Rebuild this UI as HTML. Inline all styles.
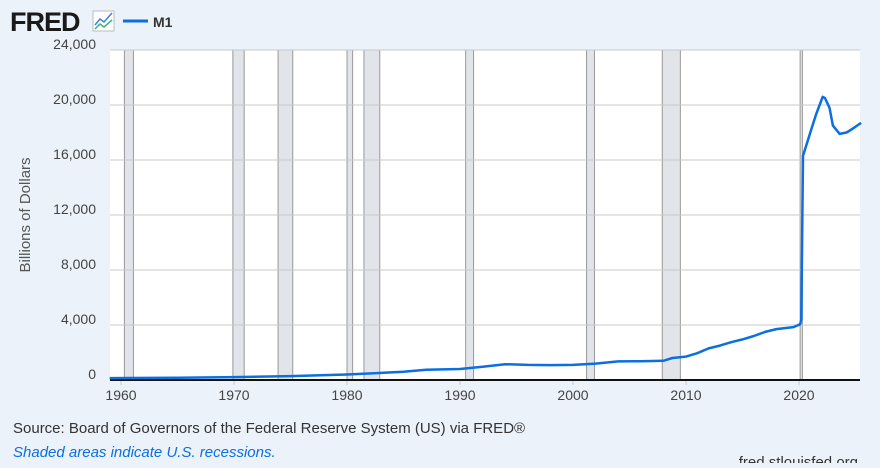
<!DOCTYPE html>
<html><head><meta charset="utf-8"><style>
body{margin:0;background:#ebf2fa;width:880px;height:463px;overflow:hidden;font-family:"Liberation Sans",sans-serif}
</style></head><body>
<svg id="s" width="880" height="463" xmlns="http://www.w3.org/2000/svg" font-family="Liberation Sans, sans-serif">
<rect width="880" height="463" fill="#ebf2fa"/>
<text x="10" y="31" font-size="27" font-weight="bold" fill="#1a1a1a" letter-spacing="-1">FRED</text>
<rect x="93" y="11" width="21" height="20" fill="#fff" stroke="#bbb"/>
<polyline points="95,25 100,19 104,22 112,13" fill="none" stroke="#3b82d6" stroke-width="1.5"/>
<polyline points="95,29 100,24 104,27 112,20" fill="none" stroke="#3bb08f" stroke-width="1.5"/>
<line x1="123" y1="21" x2="148" y2="21" stroke="#0b6fe0" stroke-width="3"/>
<text x="153" y="27" font-size="14" font-weight="bold" fill="#333">M1</text>
<rect x="110" y="50" width="750" height="330" fill="#fff"/>
<g id="rec"></g>
<g id="grid" stroke="#c8c8c8" stroke-width="1"></g>
<g id="ylab" font-size="14" fill="#444" text-anchor="end"></g>
<g id="xlab" font-size="14" fill="#444" text-anchor="middle"></g>
<line x1="110" y1="380" x2="860" y2="380" stroke="#111" stroke-width="2"/>
<polyline id="ln" fill="none" stroke="#0b6fe0" stroke-width="2.5" stroke-linejoin="round"/>
<text transform="translate(30,215) rotate(-90)" font-size="15" fill="#555" text-anchor="middle">Billions of Dollars</text>
<text x="13" y="433" font-size="15" fill="#333">Source: Board of Governors of the Federal Reserve System (US) via FRED®</text>
<text x="13" y="457" font-size="15" fill="#0b6fe0" font-style="italic">Shaded areas indicate U.S. recessions.</text>
<text x="858" y="467" font-size="15" fill="#333" text-anchor="end">fred.stlouisfed.org</text>
</svg>
<script>
const NS="http://www.w3.org/2000/svg";
const X=y=>686+(y-2010)*11.3, Y=v=>380-v*55/4000;
function el(p,t,a,txt){const e=document.createElementNS(NS,t);for(const k in a)e.setAttribute(k,a[k]);if(txt)e.textContent=txt;document.getElementById(p).appendChild(e);}
[[1960.3,1961.1],[1969.9,1970.9],[1973.9,1975.2],[1980.0,1980.5],[1981.5,1982.9],[1990.5,1991.2],[2001.2,2001.9],[2007.9,2009.5],[2020.1,2020.3]].forEach(([a,b])=>el("rec","rect",{x:X(a),y:50,width:X(b)-X(a),height:330,fill:"#e1e5ea",stroke:"#999","stroke-width":1}));
for(let v=4000;v<=24000;v+=4000)el("grid","line",{x1:110,x2:860,y1:Y(v),y2:Y(v)});
for(let v=0;v<=24000;v+=4000)el("ylab","text",{x:96,y:Y(v)+(v==0?-1:-1)},v.toLocaleString("en-US"));
for(let y=1960;y<=2020;y+=10){el("xlab","text",{x:X(y),y:400},y);el("grid","line",{x1:X(y),x2:X(y),y1:380,y2:385});}
const d=[[1959,140],[1965,165],[1970,210],[1975,280],[1980,400],[1985,600],[1987,740],[1990,800],[1992,960],[1994,1150],[1996,1100],[1998,1080],[2000,1100],[2001,1150],[2002,1190],[2004,1350],[2006,1370],[2008,1400],[2008.8,1600],[2010,1700],[2011,1950],[2012,2300],[2013,2500],[2014,2750],[2015,2950],[2016,3200],[2017,3500],[2018,3700],[2019.5,3850],[2020.1,4050],[2020.2,4400],[2020.35,16300],[2021,18000],[2021.5,19300],[2022.1,20600],[2022.3,20500],[2022.7,19800],[2023.0,18500],[2023.6,17900],[2024.2,18000],[2024.6,18200],[2025.5,18700]];
document.getElementById("ln").setAttribute("points",d.map(([a,b])=>X(a).toFixed(1)+","+Y(b).toFixed(1)).join(" "));
</script>
</body></html>
